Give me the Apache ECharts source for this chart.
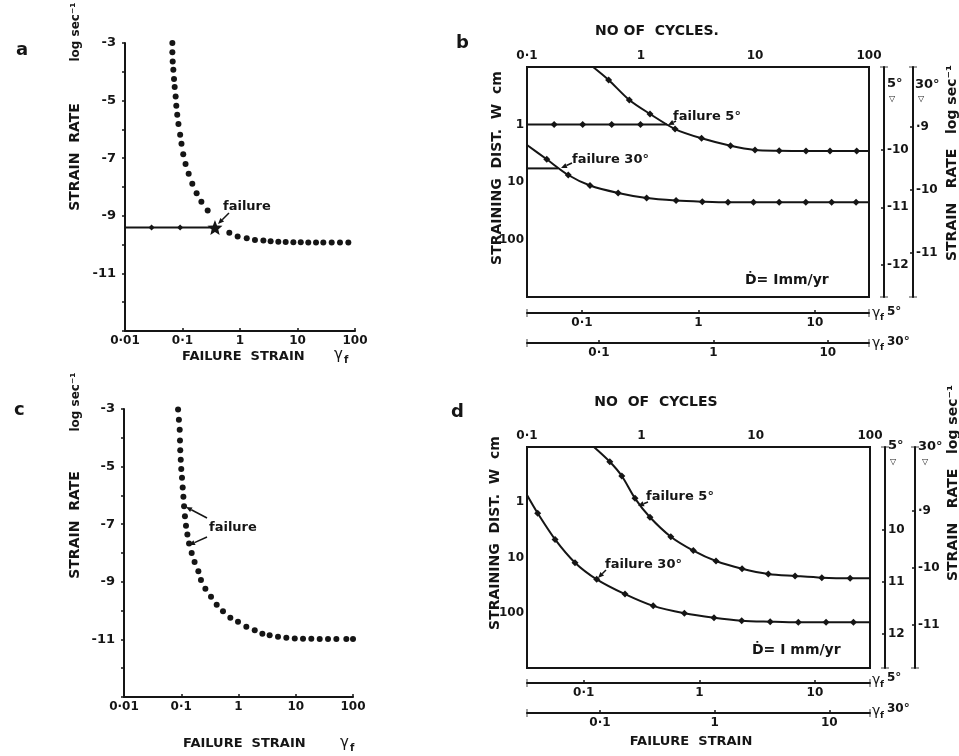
<!DOCTYPE html>
<html><head><meta charset="utf-8">
<script src="https://cdn.jsdelivr.net/npm/echarts@6/dist/echarts.min.js"></script>
<style>html,body{margin:0;padding:0;background:#fff}#c{width:959px;height:756px}</style>
</head><body><div id="c"></div><script>
// ---------------- DATA ----------------
// Panel a : failure strain vs strain rate (log sec^-1)
const aStrain = [0.0666,0.0666,0.0675,0.0693,0.0712,0.0731,0.076,0.078,0.081,0.085,0.091,0.096,0.103,0.113,0.128,0.148,0.176,0.213,0.274,
  0.652,0.91,1.31,1.82,2.55,3.41,4.64,6.23,8.47,11.4,15.4,21.0,28.1,39.3,54.8,76.6];
const aRate = [-3.0,-3.32,-3.64,-3.93,-4.25,-4.53,-4.86,-5.18,-5.49,-5.81,-6.19,-6.50,-6.86,-7.20,-7.54,-7.89,-8.22,-8.51,-8.82,
  -9.59,-9.72,-9.78,-9.84,-9.86,-9.88,-9.90,-9.91,-9.92,-9.92,-9.93,-9.93,-9.93,-9.93,-9.93,-9.93];
const aFailStrain = 0.367, aFailRate = -9.41;
const aPathStrain = [0.01, 0.029, 0.091, 0.367];
const aPathRate = [-9.41, -9.41, -9.41, -9.41];

// Panel c
const cStrain = [0.088,0.091,0.094,0.095,0.096,0.098,0.100,0.103,0.106,0.109,0.112,0.116,0.121,0.128,0.137,0.152,0.171,0.199,0.221,0.264,
  0.331,0.416,0.536,0.72,0.98,1.37,1.92,2.61,3.50,4.9,6.85,9.6,13.4,18.7,26.2,36.6,51.2,76.5,100];
const cRate = [-3.02,-3.37,-3.72,-4.09,-4.43,-4.76,-5.08,-5.39,-5.73,-6.05,-6.38,-6.72,-7.05,-7.36,-7.67,-8.00,-8.31,-8.63,-8.94,-9.24,
  -9.52,-9.80,-10.02,-10.25,-10.39,-10.56,-10.68,-10.80,-10.86,-10.91,-10.94,-10.97,-10.98,-10.98,-10.99,-10.99,-10.99,-10.99,-10.99];

// Panel b : no. of cycles vs straining distance W (cm)
const b5Cycles = [0.38,0.52,0.79,1.2,1.99,3.4,6.1,10,16.3,28,45.5,78,100];
const b5Dist   = [0.1,0.168,0.375,0.656,1.2,1.74,2.34,2.77,2.86,2.89,2.89,2.89,2.89];
const b5PathCycles = [0.1,0.173,0.308,0.553,0.99,1.69];
const b5PathDist   = [1,1,1,1,1,1];
const b30Cycles = [0.1,0.149,0.23,0.357,0.63,1.12,2.03,3.45,5.8,9.7,16.3,27.9,47,77,100];
const b30Dist   = [2.27,4.03,7.55,11.5,15.5,19,21,22,22.6,22.6,22.6,22.6,22.6,22.6,22.6];
const b30PathCycles = [0.1,0.187];
const b30PathDist   = [5.8,5.8];

// Panel d
const d5Cycles = [0.385,0.53,0.675,0.88,1.19,1.81,2.85,4.5,7.6,12.9,22.1,37.9,67,100];
const d5Dist   = [0.1,0.185,0.335,0.85,1.87,4.2,7.5,11.6,16,19.9,21.6,23.2,23.8,23.8];
const d30Cycles = [0.1,0.124,0.176,0.263,0.407,0.72,1.27,2.38,4.32,7.55,13.4,23.6,41.3,71.6,100];
const d30Dist   = [0.74,1.58,4.7,12.4,24.8,46,75,102,123,139,145,149,149,149,149];

// Tick labels
const decadeLabels = {'-2':'0·01','-1':'0·1','0':'1','1':'10','2':'100'};
const rateTickValues = [-3,-5,-7,-9,-11];
const distTickValues = [1,10,100];
const gammaTickValues = [-1,0,1];           // log10 of failure strain
const gammaTickLabels = ['0·1','1','10'];
const b5RateTicks = [-10,-11,-12];  const b5RateLabels = ['-10','-11','-12'];
const b30RateTicks = [-9,-10,-11];  const b30RateLabels = ['·9','-10','-11'];
const d5RateTicks = [10,11,12];     const d5RateLabels = ['10','11','12'];
const d30RateTicks = [-9,-10,-11];  const d30RateLabels = ['·9','-10','-11'];

// ---------------- CHART ----------------
const INK = '#151515';
const FONT = '"DejaVu Sans", sans-serif';
const zip = (xs, ys) => xs.map((x, i) => [x, ys[i]]);
const decFmt = v => decadeLabels[String(Math.round(Math.log10(v)))] || '';
const lbl = (extra) => Object.assign({color: INK, fontFamily: FONT, fontWeight: 'bold', fontSize: 12}, extra);
const AXL = {show:true, onZero:false, lineStyle:{color:INK, width:2}};
const CAP = 'path://M0,0H10V1H0Z';
const AXL_CAP = Object.assign({}, AXL, {symbol:[CAP, CAP], symbolSize:[8, 2], symbolOffset:[0, 0]});

function logX(grid, min, max, pos, showLine) {
  return {type:'log', gridIndex:grid, min, max, position:pos, logBase:10,
    axisLine:Object.assign({}, AXL, {show:showLine}),
    axisTick:{show:showLine, inside:true, length:3, lineStyle:{color:INK, width:1.5}},
    minorTick:{show:false}, splitLine:{show:false},
    axisLabel: lbl({formatter: decFmt, margin: pos==='top'?5:4})};
}
function gammaX(grid, min, max, offset) {
  return {type:'value', gridIndex:grid, min, max, position:'bottom', offset,
    axisLine:AXL_CAP,
    axisTick:{show:true, inside:true, length:3, customValues: gammaTickValues, lineStyle:{color:INK, width:1.5}},
    splitLine:{show:false},
    axisLabel: lbl({customValues: gammaTickValues, margin: 4,
      formatter: v => gammaTickLabels[gammaTickValues.indexOf(Math.round(v))] ?? ''})};
}
function rateY(grid, min, max, offset, ticks, labels, inverse) {
  return {type:'value', gridIndex:grid, min, max, position:'right', offset, inverse: !!inverse,
    axisLine:AXL_CAP,
    axisTick:{show:true, inside:true, length:3, customValues: ticks, lineStyle:{color:INK, width:1.5}},
    splitLine:{show:false},
    axisLabel: lbl({customValues: ticks, margin: 3, fontSize: 12,
      formatter: v => labels[ticks.indexOf(Math.round(v))] ?? ''})};
}
function strainRateY(grid) {
  return {type:'value', gridIndex:grid, min:-13, max:-3, interval:1,
    axisLine:AXL,
    axisTick:{show:true, length:3, lineStyle:{color:INK, width:1.5}},
    splitLine:{show:false},
    axisLabel: lbl({fontSize: 13, margin: 9,
      formatter: v => rateTickValues.includes(v) ? String(v) : ''})};
}
function distY(grid) {
  return {type:'log', gridIndex:grid, min:0.1, max:1000, inverse:true, logBase:10,
    axisLine:{show:false, onZero:false}, axisTick:{show:false}, minorTick:{show:false}, splitLine:{show:false},
    axisLabel: lbl({margin: 3, fontSize: 12,
      formatter: v => distTickValues.some(t => Math.abs(t - v) / t < 1e-6) ? decFmt(v) : ''})};
}
const curveItems = (xs, ys) => zip(xs, ys).map((p, i) => (i === 0 || i === xs.length - 1)
  ? {value: p, symbol: 'none'} : {value: p});
const curve = (xi, yi, data) => ({type:'line', xAxisIndex:xi, yAxisIndex:yi, data, smooth:0.3,
  symbol:'diamond', symbolSize:7, showAllSymbol:true,
  lineStyle:{color:INK, width:2}, itemStyle:{color:INK, opacity:1}});

// text helpers (annotations)
function T(x, y, text, size, opt) {
  opt = opt || {};
  return {type:'text', x, y, rotation: opt.rot ? Math.PI/2 : 0, z: 100,
    style:{text, fill: INK, fontFamily: FONT, fontWeight: opt.w || 'bold', fontSize: size,
      align: opt.align || 'left', verticalAlign: 'middle'}};
}
function arrow(x1, y1, x2, y2) {
  const a = Math.atan2(y2 - y1, x2 - x1), h = 6, w = 2.6;
  const bx = x2 - h*Math.cos(a), by = y2 - h*Math.sin(a);
  return [{type:'line', z:100, shape:{x1, y1, x2: bx, y2: by}, style:{stroke: INK, lineWidth: 1.5}},
    {type:'polygon', z:100, shape:{points:[[x2,y2],[bx - w*Math.sin(a), by + w*Math.cos(a)],[bx + w*Math.sin(a), by - w*Math.cos(a)]]},
      style:{fill: INK}}];
}

const graphics = [
  // panel letters
  T(16, 50, 'a', 18), T(456, 43, 'b', 18), T(14, 410, 'c', 18), T(451, 412, 'd', 18),
  // panel a
  T(75, 157, 'STRAIN  RATE', 14, {rot:true, align:'center'}),
  T(76, 32, 'log sec⁻¹', 12, {rot:true, align:'center'}),
  T(182, 357, 'FAILURE  STRAIN', 13), T(334, 355, 'γ', 15, {w:'normal'}), T(344, 360, 'f', 10),
  T(223, 207, 'failure', 13),
  // panel c
  T(75, 525, 'STRAIN  RATE', 14, {rot:true, align:'center'}),
  T(76, 402, 'log sec⁻¹', 12, {rot:true, align:'center'}),
  T(183, 744, 'FAILURE  STRAIN', 13), T(340, 743, 'γ', 15, {w:'normal'}), T(350, 748, 'f', 10),
  T(209, 528, 'failure', 13),
  // panel b
  T(657, 31, 'NO OF  CYCLES.', 14, {align:'center'}),
  T(497, 168, 'STRAINING  DIST.  W  cm', 14, {rot:true, align:'center'}),
  T(952, 163, 'STRAIN   RATE   log sec⁻¹', 14, {rot:true, align:'center'}),
  T(887, 84, '5°', 13), T(889, 99, '▽', 8, {w:'normal'}),
  T(915, 85, '30°', 13), T(918, 99, '▽', 8, {w:'normal'}),
  T(745, 280, 'Ḋ= Imm/yr', 14),
  T(673, 117, 'failure 5°', 13), T(572, 160, 'failure 30°', 13),
  T(872, 313, 'γ', 14, {w:'normal'}), T(880, 318, 'f', 9), T(887, 312, '5°', 12),
  T(872, 343, 'γ', 14, {w:'normal'}), T(880, 348, 'f', 9), T(887, 342, '30°', 12),
  // panel d
  T(656, 402, 'NO  OF  CYCLES', 14, {align:'center'}),
  T(495, 533, 'STRAINING  DIST.  W  cm', 14, {rot:true, align:'center'}),
  T(953, 483, 'STRAIN   RATE   log sec⁻¹', 14, {rot:true, align:'center'}),
  T(888, 446, '5°', 13), T(890, 462, '▽', 8, {w:'normal'}),
  T(918, 447, '30°', 13), T(922, 462, '▽', 8, {w:'normal'}),
  T(752, 650, 'Ḋ= I mm/yr', 14),
  T(646, 497, 'failure 5°', 13), T(605, 565, 'failure 30°', 13),
  T(872, 680, 'γ', 14, {w:'normal'}), T(880, 685, 'f', 9), T(887, 678, '5°', 12),
  T(872, 711, 'γ', 14, {w:'normal'}), T(880, 716, 'f', 9), T(887, 709, '30°', 12),
  T(691, 742, 'FAILURE  STRAIN', 13, {align:'center'}),
].concat(
  arrow(229, 213, 218, 224),
  arrow(207, 518, 186, 507), arrow(207, 537, 189, 545),
  arrow(676, 121, 668, 125), arrow(572, 163, 561, 168),
  arrow(648, 502, 638, 506), arrow(606, 570, 598, 578)
);

const option = {
  animation: false,
  backgroundColor: '#fff',
  grid: [
    {left:125, top:43, width:230, height:288, outerBoundsMode:'none', containLabel:false},
    {left:527, top:67, width:342, height:230, show:true, borderColor:INK, borderWidth:2, backgroundColor:'transparent', outerBoundsMode:'none', containLabel:false},
    {left:124, top:409, width:229, height:288, outerBoundsMode:'none', containLabel:false},
    {left:527, top:447, width:343, height:221, show:true, borderColor:INK, borderWidth:2, backgroundColor:'transparent', outerBoundsMode:'none', containLabel:false}
  ],
  xAxis: [
    logX(0, 0.01, 100, 'bottom', true),
    logX(1, 0.1, 100, 'top', false),
    gammaX(1, -1.472, 1.464, 16),
    gammaX(1, -1.629, 1.36, 46),
    logX(2, 0.01, 100, 'bottom', true),
    logX(3, 0.1, 100, 'top', false),
    gammaX(3, -1.49, 1.476, 15),
    gammaX(3, -1.636, 1.355, 45)
  ],
  yAxis: [
    strainRateY(0),
    distY(1),
    rateY(1, -12.56, -8.56, 15, b5RateTicks, b5RateLabels, false),
    rateY(1, -11.7, -8.05, 44, b30RateTicks, b30RateLabels, false),
    strainRateY(2),
    distY(3),
    rateY(3, 8.4, 12.65, 15, d5RateTicks, d5RateLabels, true),
    rateY(3, -11.75, -7.88, 45, d30RateTicks, d30RateLabels, false)
  ],
  series: [
    {type:'scatter', xAxisIndex:0, yAxisIndex:0, data: zip(aStrain, aRate), symbolSize:6, itemStyle:{color:INK, opacity:1}},
    {type:'line', xAxisIndex:0, yAxisIndex:0, data: curveItems(aPathStrain, aPathRate), symbol:'diamond', symbolSize:6,
      showAllSymbol:true, lineStyle:{color:INK, width:2}, itemStyle:{color:INK, opacity:1}},
    {type:'scatter', xAxisIndex:0, yAxisIndex:0, data: [[aFailStrain, aFailRate]], symbolSize:15,
      symbol:'path://M0,-10 L2.6,-3.6 9.5,-3.1 4.2,1.4 5.9,8.1 0,4.4 -5.9,8.1 -4.2,1.4 -9.5,-3.1 -2.6,-3.6 Z', itemStyle:{color:INK, opacity:1}},
    {type:'scatter', xAxisIndex:4, yAxisIndex:4, data: zip(cStrain, cRate), symbolSize:6, itemStyle:{color:INK, opacity:1}},
    curve(1, 1, curveItems(b5Cycles, b5Dist)),
    curve(1, 1, zip(b5PathCycles, b5PathDist).map((p, i) => (i === 0 || i === b5PathCycles.length - 1) ? {value:p, symbol:'none'} : {value:p})),
    curve(1, 1, curveItems(b30Cycles, b30Dist)),
    Object.assign(curve(1, 1, zip(b30PathCycles, b30PathDist)), {symbol:'none'}),
    curve(5, 5, curveItems(d5Cycles, d5Dist)),
    curve(5, 5, curveItems(d30Cycles, d30Dist))
  ],
  graphic: graphics
};
// horizontal paths should be straight
option.series[5].smooth = false; option.series[7].smooth = false;

const chart = echarts.init(document.getElementById('c'), null, {renderer:'canvas'});
chart.setOption(option);
</script></body></html>
